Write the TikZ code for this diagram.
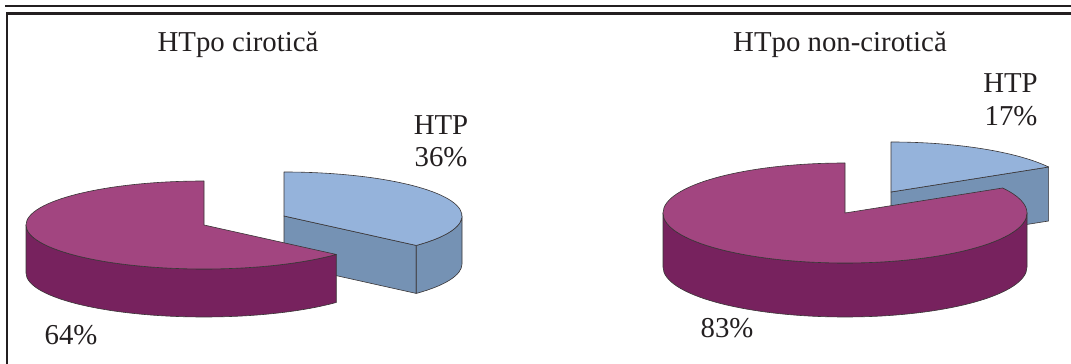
\documentclass[tikz,border=0pt]{standalone}
\usepackage{fontspec}
\setmainfont{Liberation Serif}
\definecolor{magTop}{RGB}{162,69,128}
\definecolor{magSide}{RGB}{119,34,94}
\definecolor{bluTop}{RGB}{149,179,219}
\definecolor{bluSide}{RGB}{117,146,180}
\definecolor{ink}{RGB}{35,31,32}
\begin{document}
\begin{tikzpicture}[x=1pt,y=1pt,
  edge/.style={draw=ink!90, line width=0.6pt, line join=round},
  lbl/.style={font=\fontsize{28.8}{32}\selectfont, text=ink, anchor=base, inner sep=0pt},
  rule/.style={draw=ink}]
\useasboundingbox (0,0) rectangle (1071,364);
\fill[white] (0,0) rectangle (1071,364);

% frame rules
\draw[rule, line width=1.4pt] (5,358) -- (1071,358);
\draw[rule, line width=2.4pt] (7,-5) -- (7,350.6) -- (1076,350.6);

% ---------- left chart: HTpo cirotica ----------
\coordinate (LB) at (284,148);
\coordinate (LM) at (204,139);
% blue slice (36%), pulled out
\filldraw[edge, fill=bluSide] (LB) -- ++(-42:178pt and 44pt) -- ++(0,-48) -- ([yshift=-48pt]LB) -- cycle;
\filldraw[edge, fill=bluSide] (LB) ++(-42:178pt and 44pt)
  arc[start angle=-42, end angle=0, x radius=178pt, y radius=44pt] -- ++(0,-48)
  arc[start angle=0, end angle=-42, x radius=178pt, y radius=44pt] -- cycle;
\filldraw[edge, fill=bluTop] (LB) -- ++(-42:178pt and 44pt)
  arc[start angle=-42, end angle=90, x radius=178pt, y radius=44pt] -- cycle;
% magenta slice (64%)
\filldraw[edge, fill=magSide] (LM) ++(180:178pt and 44pt)
  arc[start angle=180, end angle=318, x radius=178pt, y radius=44pt] -- ++(0,-48)
  arc[start angle=318, end angle=180, x radius=178pt, y radius=44pt] -- cycle;
\filldraw[edge, fill=magTop] (LM) -- ++(90:178pt and 44pt)
  arc[start angle=90, end angle=318, x radius=178pt, y radius=44pt] -- cycle;

% ---------- right chart: HTpo non-cirotica ----------
\coordinate (RB) at (891,172);
\coordinate (RM) at (845,151);
% blue slice (17%), pulled out
\filldraw[edge, fill=bluSide] (RB) -- ++(30:182pt and 50pt) -- ++(0,-54) -- ([yshift=-54pt]RB) -- cycle;
\filldraw[edge, fill=bluTop] (RB) -- ++(30:182pt and 50pt)
  arc[start angle=30, end angle=90, x radius=182pt, y radius=50pt] -- cycle;
% magenta slice (83%)
\filldraw[edge, fill=magSide] (RM) ++(180:182pt and 50pt)
  arc[start angle=180, end angle=360, x radius=182pt, y radius=50pt] -- ++(0,-54)
  arc[start angle=360, end angle=180, x radius=182pt, y radius=50pt] -- cycle;
\filldraw[edge, fill=magTop] (RM) -- ++(90:182pt and 50pt)
  arc[start angle=90, end angle=390, x radius=182pt, y radius=50pt] -- cycle;

% ---------- labels ----------
\node[lbl] (titleL) at (238,312) {HTpo cirotică};
\node[lbl] (titleR) at (840,312) {HTpo non-cirotică};
\node[lbl] (htpL) at (441,229) {HTP};
\node[lbl] (pctBL) at (441,197) {36\%};
\node[lbl] (pctML) at (71,19) {64\%};
\node[lbl] (htpR) at (1010.5,271) {HTP};
\node[lbl] (pctBR) at (1011,238) {17\%};
\node[lbl] (pctMR) at (727,26) {83\%};
\end{tikzpicture}
\end{document}
